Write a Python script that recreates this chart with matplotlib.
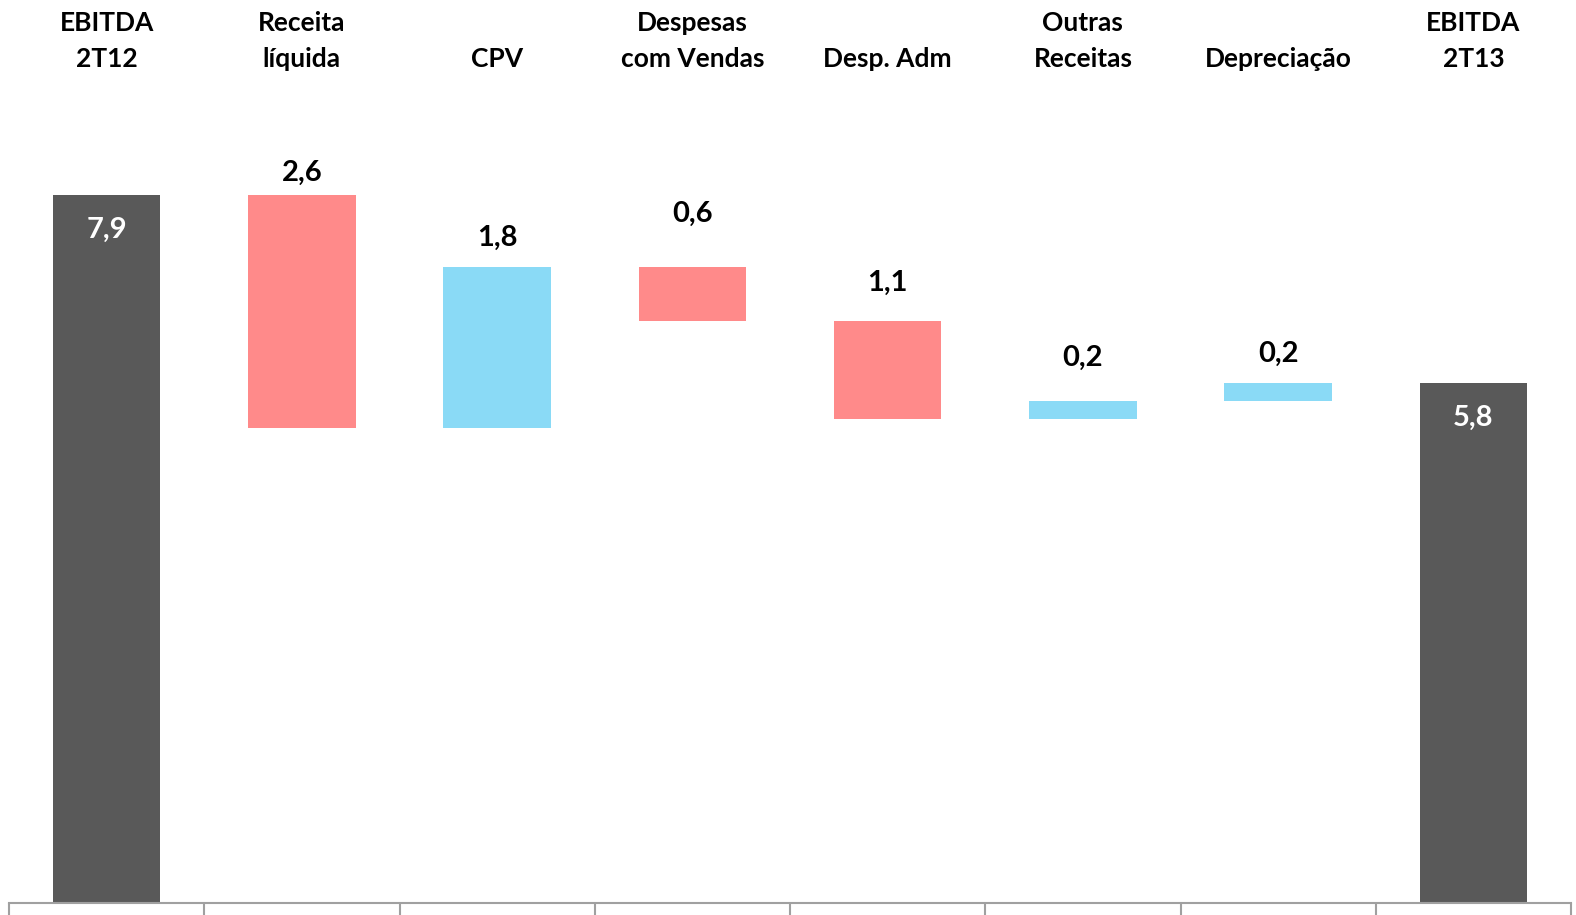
import matplotlib.pyplot as plt
import matplotlib.transforms as mtransforms
import numpy as np

plt.rcParams['font.family'] = ['Lato', 'DejaVu Sans']

# Dados da ponte de EBITDA (R$ milhões)
categorias = ['EBITDA\n2T12', 'Receita\nlíquida', 'CPV', 'Despesas\ncom Vendas',
              'Desp. Adm', 'Outras\nReceitas', 'Depreciação', 'EBITDA\n2T13']
valores = [7.9, -2.6, 1.8, -0.6, -1.1, 0.2, 0.2, 5.8]
tipos = ['total', 'delta', 'delta', 'delta', 'delta', 'delta', 'delta', 'total']
rotulos = ['7,9', '2,6', '1,8', '0,6', '1,1', '0,2', '0,2', '5,8']

# distância (pt) do rótulo até o topo da barra, como no original
label_pad = [-25, 16, 21, 38, 27, 31, 21, -25]

cor_total = '#595959'
cor_neg = '#FF8A8A'
cor_pos = '#8ADAF6'

fig = plt.figure(figsize=(15.76, 9.15), dpi=100)
ax = fig.add_axes([9 / 1576, 12 / 915, 1562 / 1576, 896 / 915])

x = np.arange(len(categorias))
acum = 0.0
for i, (v, t) in enumerate(zip(valores, tipos)):
    if t == 'total':
        base, altura, cor = 0, v, cor_total
        acum = v
    else:
        novo = acum + v
        base, altura = min(acum, novo), abs(v)
        cor = cor_pos if v > 0 else cor_neg
        acum = novo
    ax.bar(x[i], altura, bottom=base, width=0.55, color=cor, zorder=2)
    topo = base + altura
    ax.annotate(rotulos[i], (x[i], topo), xytext=(0, label_pad[i]),
                textcoords='offset points', ha='center', va='center',
                fontsize=21, fontweight='bold',
                color='white' if t == 'total' else 'black')

# nomes das categorias no topo
trans = mtransforms.blended_transform_factory(ax.transData, fig.transFigure)
for i, nome in enumerate(categorias):
    ax.text(x[i], 1 - 71 / 915, nome, transform=trans, ha='center', va='bottom',
            fontsize=19, fontweight='bold', linespacing=1.6)

ax.set_xlim(-0.5, len(categorias) - 0.5)
ax.set_ylim(0, 10)
ax.set_yticks([])
ax.set_xticks([])
ax.set_xticks(np.arange(-0.5, len(categorias)), minor=True)
ax.tick_params(axis='x', which='minor', direction='out', length=10,
               color='#A0A0A0', width=1.5)
for lado in ['top', 'right', 'left']:
    ax.spines[lado].set_visible(False)
ax.spines['bottom'].set_color('#A0A0A0')
ax.spines['bottom'].set_linewidth(1.5)

fig.savefig('out.png', dpi=100)
